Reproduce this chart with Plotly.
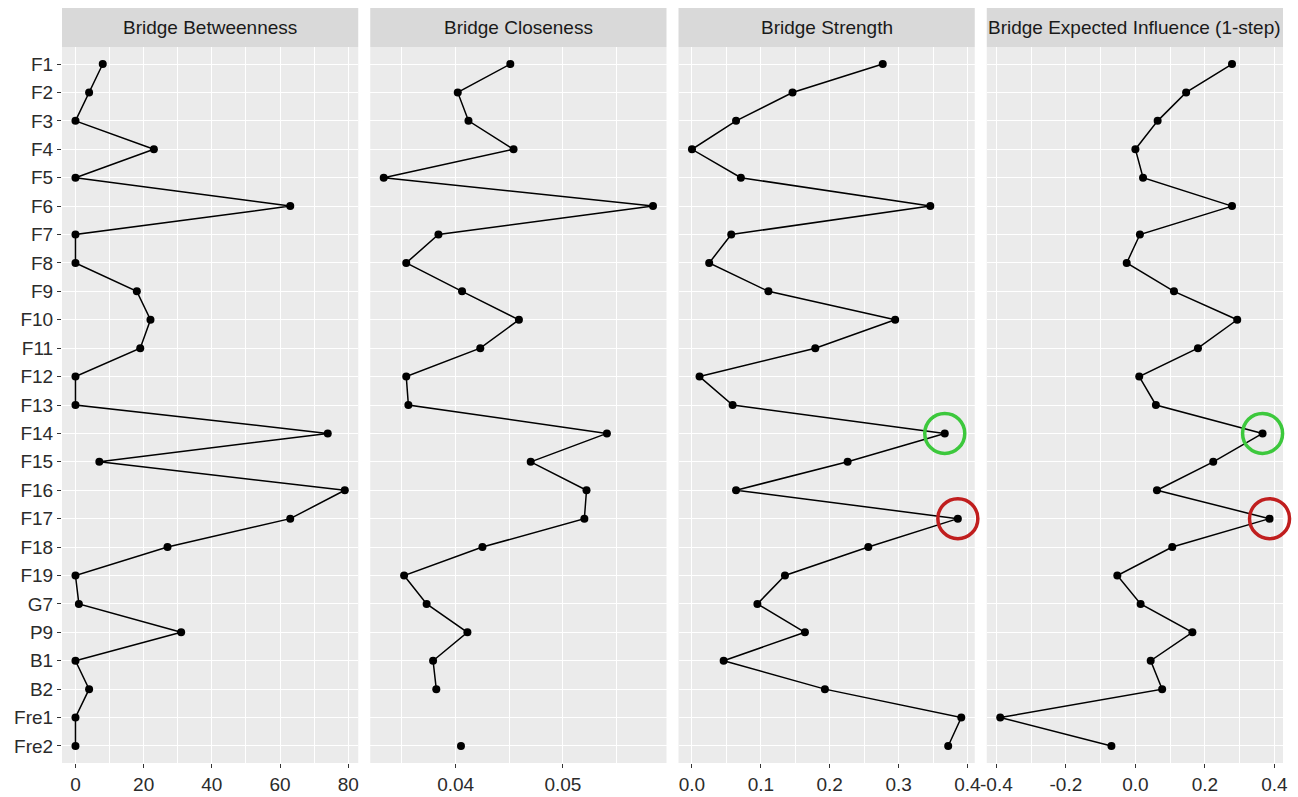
import plotly.graph_objects as go

# ---------------- data ----------------
nodes = ["F1", "F2", "F3", "F4", "F5", "F6", "F7", "F8", "F9", "F10", "F11", "F12",
         "F13", "F14", "F15", "F16", "F17", "F18", "F19", "G7", "P9", "B1", "B2",
         "Fre1", "Fre2"]

panel_titles = ["Bridge Betweenness", "Bridge Closeness", "Bridge Strength",
                "Bridge Expected Influence (1-step)"]

betweenness = [8, 4, 0, 23, 0, 63, 0, 0, 18, 22, 19, 0, 0, 74, 7, 79, 63, 27, 0, 1,
               31, 0, 4, 0, 0]

closeness = [0.0451, 0.0402, 0.0412, 0.0454, 0.0333, 0.0584, 0.0384, 0.0354, 0.0406,
             0.0459, 0.0423, 0.0354, 0.0356, 0.0541, 0.0470, 0.0522, 0.0520, 0.0425,
             0.0352, 0.0373, 0.0411, 0.0379, 0.0382, None, 0.0405]

strength = [0.277, 0.146, 0.064, 0.0, 0.071, 0.346, 0.057, 0.025, 0.111, 0.295, 0.179,
            0.011, 0.059, 0.367, 0.226, 0.064, 0.386, 0.256, 0.135, 0.095, 0.164,
            0.046, 0.193, 0.391, 0.372]

expected_influence = [0.278, 0.146, 0.064, 0.0, 0.022, 0.278, 0.013, -0.025, 0.111,
                      0.293, 0.180, 0.011, 0.059, 0.366, 0.224, 0.062, 0.386, 0.106,
                      -0.052, 0.015, 0.164, 0.044, 0.077, -0.389, -0.069]

# tick values / labels per panel
tick_vals = [[0, 20, 40, 60, 80], [0.04, 0.05], [0.0, 0.1, 0.2, 0.3, 0.4],
             [-0.4, -0.2, 0.0, 0.2, 0.4]]
tick_text = [["0", "20", "40", "60", "80"], ["0.04", "0.05"],
             ["0.0", "0.1", "0.2", "0.3", "0.4"], ["-0.4", "-0.2", "0.0", "0.2", "0.4"]]
minor_vals = [[10, 30, 50, 70], [0.035, 0.045, 0.055], [0.05, 0.15, 0.25, 0.35],
              [-0.3, -0.1, 0.1, 0.3]]

# highlighted nodes (panel index -> list of (node, colour))
highlights = {2: [("F14", "#3cc83c"), ("F17", "#c01e1e")],
              3: [("F14", "#3cc83c"), ("F17", "#c01e1e")]}

series = [betweenness, closeness, strength, expected_influence]

# ---------------- layout geometry ----------------
W, H = 1298, 797
ml, mr, mt, mb = 62, 15, 47, 34
plot_w = W - ml - mr
plot_h = H - mt - mb
gap_px = 12
panel_w = (plot_w - 3 * gap_px) / 4
strip_h = 39
FONT = "Liberation Sans, Arial, sans-serif"
TICK_FONT = dict(family=FONT, size=19, color="#2b2b2b")

fig = go.Figure()

n = len(nodes)
for i, vals in enumerate(series):
    ax = "" if i == 0 else str(i + 1)
    fig.add_trace(go.Scatter(
        x=vals, y=nodes, mode="lines+markers",
        line=dict(color="black", width=1.5),
        marker=dict(color="black", size=8),
        connectgaps=False, showlegend=False,
        xaxis="x" + ax, yaxis="y" + ax,
        hovertemplate="%{y}: %{x}<extra></extra>"))

    clean = [v for v in vals if v is not None]
    lo, hi = min(clean), max(clean)
    span = hi - lo
    rng = [lo - 0.05 * span, hi + 0.05 * span]

    d0 = (i * (panel_w + gap_px)) / plot_w
    d1 = (i * (panel_w + gap_px) + panel_w) / plot_w

    fig.update_layout(**{
        "xaxis" + ax: dict(
            domain=[d0, d1], range=rng, anchor="y" + ax, automargin=False,
            tickmode="array", tickvals=tick_vals[i], ticktext=tick_text[i],
            ticks="outside", ticklen=4, tickwidth=1.1, tickcolor="#333333",
            tickfont=TICK_FONT,
            showgrid=True, gridcolor="white", gridwidth=1.4,
            zeroline=False, showline=False,
            minor=dict(tickmode="array", tickvals=minor_vals[i], showgrid=True,
                       gridcolor="white", gridwidth=0.6, ticks=""),
            fixedrange=True),
        "yaxis" + ax: dict(
            type="category", categoryorder="array", categoryarray=nodes,
            range=[n - 1 + 0.6, -0.6], anchor="x" + ax, automargin=False,
            showticklabels=(i == 0),
            ticks="outside" if i == 0 else "", ticklen=4, tickwidth=1.1,
            tickcolor="#333333",
            tickfont=TICK_FONT,
            showgrid=True, gridcolor="white", gridwidth=1.4,
            zeroline=False, showline=False, fixedrange=True),
    })

    # panel background
    fig.add_shape(type="rect", xref="x" + ax + " domain", yref="paper",
                  x0=0, x1=1, y0=0, y1=1, fillcolor="#ebebeb",
                  line=dict(width=0), layer="below")
    # strip
    fig.add_shape(type="rect", xref="x" + ax + " domain", yref="paper",
                  x0=0, x1=1, y0=1, y1=1 + strip_h / plot_h,
                  fillcolor="#d9d9d9", line=dict(width=0), layer="below")
    fig.add_annotation(text=panel_titles[i], xref="x" + ax + " domain",
                       yref="paper", x=0.5, y=1 + strip_h / (2 * plot_h),
                       showarrow=False, xanchor="center", yanchor="middle",
                       font=dict(family=FONT, size=19, color="#1a1a1a"))

    # highlight circles (open markers, not clipped at panel edge)
    hl = highlights.get(i, [])
    if hl:
        fig.add_trace(go.Scatter(
            x=[vals[nodes.index(nd)] for nd, _ in hl],
            y=[nd for nd, _ in hl], mode="markers",
            marker=dict(symbol="circle-open", size=40,
                        color=[c for _, c in hl],
                        line=dict(color=[c for _, c in hl], width=3.5)),
            cliponaxis=False, showlegend=False, hoverinfo="skip",
            xaxis="x" + ax, yaxis="y" + ax))

fig.update_layout(
    width=W, height=H,
    margin=dict(l=ml, r=mr, t=mt, b=mb),
    paper_bgcolor="white", plot_bgcolor="rgba(0,0,0,0)",
    font=dict(family=FONT),
    showlegend=False,
)

fig.write_html(
    "out.html",
    config={"displayModeBar": False},
    post_script="document.body.style.margin='0';"
                "document.body.style.overflow='hidden';",
)
